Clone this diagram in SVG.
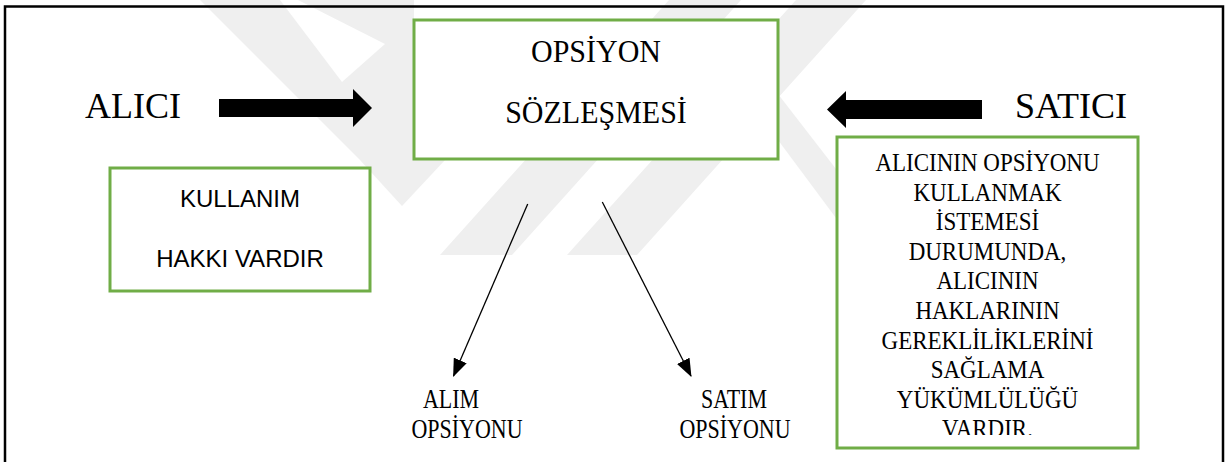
<svg xmlns="http://www.w3.org/2000/svg" width="1229" height="462" viewBox="0 0 1229 462">
<style>
.wm{fill:#efefef}
.box{fill:#fff;stroke:#70AD47;stroke-width:3}
.serif{font-family:"Liberation Serif","Times New Roman",serif;fill:#000}
.sans{font-family:"Liberation Sans",Arial,sans-serif;fill:#000}
.conn{stroke:#000;stroke-width:1.3;fill:none}
.block{fill:#000}
</style>
<defs>
<marker id="ah" markerWidth="18" markerHeight="14" refX="17" refY="7" orient="auto" markerUnits="userSpaceOnUse"><path d="M0,0 L18,7 L0,14 z" fill="#000"/></marker>
<clipPath id="rclip"><rect x="838" y="138" width="298" height="297"/></clipPath>
</defs>
<rect width="1229" height="462" fill="#fff"/>
<g id="watermark">
<polygon class="wm" points="200,0 414,0 414,160 360,160"/>
<polygon fill="#fff" points="280,0 298,0 385,44 342,82"/>
<polygon class="wm" points="360,160 445,160 402,206"/>
<polygon class="wm" points="440,255 512,255 741,0 669,0"/>
<polygon class="wm" points="567,255 637,255 866,0 796,0"/>
<polygon class="wm" points="778,94 836,169 836,218 778,140"/>
</g>
<path d="M5,462 V6.5 H1223 V462" fill="none" stroke="#000" stroke-width="2.5"/>
<g id="connectors">
<polygon class="block" points="219,99 353,99 353,89 372,108 353,127 353,117 219,117"/>
<polygon class="block" points="982,100 846,100 846,91 827,109.5 846,128 846,119 982,119"/>
<line class="conn" x1="527.7" y1="204" x2="453.5" y2="376" marker-end="url(#ah)"/>
<line class="conn" x1="602.3" y1="202" x2="691" y2="376" marker-end="url(#ah)"/>
</g>
<g id="node-alici">
<text class="serif" x="85" y="118" font-size="36">ALICI</text>
</g>
<g id="node-satici">
<text class="serif" x="1015" y="118" font-size="36">SATICI</text>
</g>
<g id="node-opsiyon">
<rect class="box" x="414" y="20" width="364" height="139"/>
<text class="serif" font-size="30" text-anchor="middle" transform="translate(596,62) scale(1,1.05)">OPSİYON</text>
<text class="serif" font-size="30" text-anchor="middle" transform="translate(596,123) scale(1,1.05)">SÖZLEŞMESİ</text>
</g>
<g id="node-kullanim">
<rect class="box" x="110" y="168" width="260" height="123"/>
<text class="sans" x="240" y="207" font-size="24" text-anchor="middle">KULLANIM</text>
<text class="sans" x="240" y="267" font-size="24" text-anchor="middle">HAKKI VARDIR</text>
</g>
<g id="node-satici-box">
<rect class="box" x="837" y="137" width="301" height="311"/>
<g clip-path="url(#rclip)">
<g class="serif" font-size="23" text-anchor="middle">
<text transform="translate(987.5,171) scale(1,1.1)">ALICININ OPSİYONU</text>
<text transform="translate(987.5,200.6) scale(1,1.1)">KULLANMAK</text>
<text transform="translate(987.5,230.2) scale(1,1.1)">İSTEMESİ</text>
<text transform="translate(987.5,259.8) scale(1,1.1)">DURUMUNDA,</text>
<text transform="translate(987.5,289.4) scale(1,1.1)">ALICININ</text>
<text transform="translate(987.5,319) scale(1,1.1)">HAKLARININ</text>
<text transform="translate(987.5,348.6) scale(1,1.1)">GEREKLİLİKLERİNİ</text>
<text transform="translate(987.5,378.2) scale(1,1.1)">SAĞLAMA</text>
<text transform="translate(987.5,407.8) scale(1,1.1)">YÜKÜMLÜLÜĞÜ</text>
<text transform="translate(987.5,437.4) scale(1,1.1)">VARDIR.</text>
</g>
</g>
</g>
<g id="node-alim">
<text class="serif" font-size="22" text-anchor="middle" transform="translate(451,408) scale(1,1.2)">ALIM</text>
<text class="serif" font-size="22" text-anchor="middle" transform="translate(467,438) scale(1,1.2)">OPSİYONU</text>
</g>
<g id="node-satim">
<text class="serif" font-size="22" text-anchor="middle" transform="translate(734,408) scale(1,1.2)">SATIM</text>
<text class="serif" font-size="22" text-anchor="middle" transform="translate(735,438) scale(1,1.2)">OPSİYONU</text>
</g>
</svg>
